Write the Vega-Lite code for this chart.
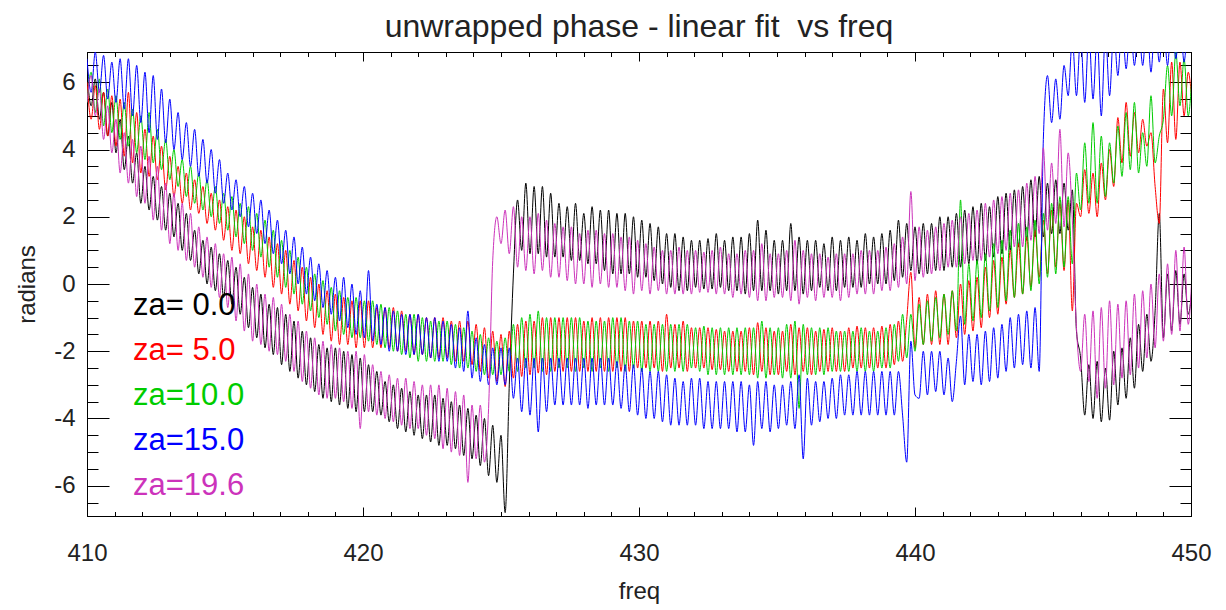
{
"$schema": "https://vega.github.io/schema/vega-lite/v6.json",
"width": 1104, "height": 464,
"autosize": {"type": "none"},
"padding": {"left": 87, "top": 52, "right": 35, "bottom": 94},
"background": "white",
"title": {"text": "unwrapped phase - linear fit\u00a0 vs freq", "fontSize": 32, "font": "Liberation Sans", "fontWeight": "normal", "color": "#222222", "anchor": "middle", "offset": 15, "baseline": "alphabetic", "dy": 32},
"config": {"view": {"stroke": "#000000", "strokeWidth": 1}, "axis": {"grid": false, "domainColor": "#000000", "tickColor": "#000000", "domainWidth": 1, "tickWidth": 1, "labelFont": "Liberation Sans", "labelFontSize": 24, "labelColor": "#222222", "titleFont": "Liberation Sans", "titleFontSize": 24, "titleFontWeight": "normal", "titleColor": "#222222", "labelFlush": false, "labelOverlap": false}},
"datasets": {"phase": [
{"f":410,"a":6.3,"b":6.0,"c":5.4,"d":6.7,"e":5.4},
{"f":410.15,"a":5.3,"b":4.9,"c":6.3,"d":5.7,"e":6.2},
{"f":410.3,"a":6.1,"b":5.9,"c":5.1,"d":6.9,"e":5.0},
{"f":410.45,"a":4.9,"b":4.6,"c":6.1,"d":5.7,"e":5.8},
{"f":410.6,"a":5.7,"b":5.7,"c":4.7,"d":6.8,"e":4.3},
{"f":410.75,"a":4.4,"b":4.4,"c":5.8,"d":5.5,"e":5.3},
{"f":410.9,"a":5.4,"b":5.6,"c":4.5,"d":6.6,"e":3.9},
{"f":411.05,"a":3.9,"b":4.1,"c":5.6,"d":5.4,"e":4.9},
{"f":411.2,"a":4.9,"b":5.5,"c":4.3,"d":6.7,"e":3.3},
{"f":411.35,"a":3.4,"b":3.8,"c":5.4,"d":5.2,"e":4.5},
{"f":411.5,"a":4.4,"b":5.7,"c":4.1,"d":6.7,"e":3.0},
{"f":411.65,"a":3.0,"b":3.6,"c":5.2,"d":5.0,"e":4.3},
{"f":411.8,"a":3.9,"b":5.1,"c":3.9,"d":6.5,"e":2.6},
{"f":411.95,"a":2.4,"b":3.3,"c":5.0,"d":4.8,"e":4.1},
{"f":412.1,"a":3.5,"b":4.6,"c":3.7,"d":6.3,"e":2.4},
{"f":412.25,"a":2.2,"b":3.2,"c":5.1,"d":4.5,"e":3.8},
{"f":412.4,"a":3.2,"b":4.4,"c":3.6,"d":6.2,"e":1.9},
{"f":412.55,"a":1.9,"b":3.1,"c":4.6,"d":4.3,"e":3.5},
{"f":412.7,"a":2.9,"b":4.1,"c":3.4,"d":5.8,"e":1.6},
{"f":412.85,"a":1.6,"b":2.8,"c":4.3,"d":4.2,"e":3.0},
{"f":413,"a":2.7,"b":3.8,"c":3.1,"d":5.5,"e":1.2},
{"f":413.15,"a":1.4,"b":2.6,"c":4.0,"d":4.0,"e":2.7},
{"f":413.3,"a":2.4,"b":3.5,"c":2.9,"d":5.1,"e":1.0},
{"f":413.45,"a":1.0,"b":2.4,"c":3.7,"d":3.7,"e":2.4},
{"f":413.6,"a":2.1,"b":3.3,"c":2.6,"d":4.8,"e":0.7},
{"f":413.75,"a":0.7,"b":2.2,"c":3.5,"d":3.5,"e":2.1},
{"f":413.9,"a":1.6,"b":3.1,"c":2.4,"d":4.6,"e":0.5},
{"f":414.05,"a":0.3,"b":2.1,"c":3.3,"d":3.2,"e":1.7},
{"f":414.2,"a":1.3,"b":2.9,"c":2.2,"d":4.3,"e":0.2},
{"f":414.35,"a":0.0,"b":1.8,"c":3.1,"d":3.0,"e":1.4},
{"f":414.5,"a":1.1,"b":2.7,"c":2.0,"d":4.0,"e":-0.1},
{"f":414.65,"a":-0.2,"b":1.6,"c":2.9,"d":2.7,"e":1.2},
{"f":414.8,"a":0.9,"b":2.5,"c":1.8,"d":3.7,"e":-0.4},
{"f":414.95,"a":-0.4,"b":1.3,"c":2.7,"d":2.4,"e":0.9},
{"f":415.1,"a":0.7,"b":2.3,"c":1.6,"d":3.3,"e":-0.7},
{"f":415.25,"a":-0.6,"b":1.0,"c":2.6,"d":2.2,"e":0.8},
{"f":415.4,"a":0.5,"b":2.2,"c":1.4,"d":3.1,"e":-1.1},
{"f":415.55,"a":-0.9,"b":0.9,"c":2.4,"d":2.0,"e":0.6},
{"f":415.7,"a":0.2,"b":2.0,"c":1.2,"d":2.9,"e":-1.4},
{"f":415.85,"a":-1.3,"b":0.6,"c":2.3,"d":1.7,"e":0.3},
{"f":416,"a":-0.1,"b":1.7,"c":1.0,"d":2.7,"e":-1.7},
{"f":416.15,"a":-1.6,"b":0.4,"c":2.1,"d":1.5,"e":0.0},
{"f":416.3,"a":-0.3,"b":1.6,"c":0.8,"d":2.5,"e":-1.8},
{"f":416.45,"a":-1.9,"b":0.2,"c":1.9,"d":1.2,"e":-0.3},
{"f":416.6,"a":-0.6,"b":1.4,"c":0.5,"d":2.2,"e":-2.0},
{"f":416.75,"a":-2.1,"b":-0.1,"c":1.6,"d":0.9,"e":-0.4},
{"f":416.9,"a":-0.7,"b":1.2,"c":0.2,"d":1.9,"e":-2.1},
{"f":417.05,"a":-2.4,"b":-0.3,"c":1.3,"d":0.6,"e":-0.6},
{"f":417.2,"a":-0.9,"b":1.0,"c":-0.1,"d":1.6,"e":-2.3},
{"f":417.35,"a":-2.6,"b":-0.6,"c":1.0,"d":0.3,"e":-0.9},
{"f":417.5,"a":-1.1,"b":0.7,"c":-0.3,"d":1.4,"e":-2.6},
{"f":417.65,"a":-2.8,"b":-0.8,"c":0.8,"d":0.0,"e":-1.1},
{"f":417.8,"a":-1.4,"b":0.5,"c":-0.6,"d":1.1,"e":-2.9},
{"f":417.95,"a":-3.0,"b":-1.1,"c":0.5,"d":-0.3,"e":-1.4},
{"f":418.1,"a":-1.6,"b":0.2,"c":-0.8,"d":0.8,"e":-3.1},
{"f":418.25,"a":-3.2,"b":-1.3,"c":0.3,"d":-0.5,"e":-1.6},
{"f":418.4,"a":-1.8,"b":0.0,"c":-1.0,"d":0.6,"e":-3.3},
{"f":418.55,"a":-3.4,"b":-1.5,"c":0.1,"d":-0.7,"e":-1.7},
{"f":418.7,"a":-1.9,"b":-0.2,"c":-1.2,"d":0.4,"e":-3.4},
{"f":418.85,"a":-3.5,"b":-1.7,"c":-0.1,"d":-0.9,"e":-1.8},
{"f":419,"a":-1.9,"b":-0.3,"c":-1.4,"d":0.2,"e":-3.4},
{"f":419.15,"a":-3.6,"b":-1.8,"c":-0.2,"d":-1.1,"e":-1.9},
{"f":419.3,"a":-2.0,"b":-0.4,"c":-1.5,"d":0.2,"e":-3.5},
{"f":419.45,"a":-3.7,"b":-1.8,"c":-0.4,"d":-1.3,"e":-2.0},
{"f":419.6,"a":-2.1,"b":-0.5,"c":-1.6,"d":0.0,"e":-3.7},
{"f":419.75,"a":-3.8,"b":-1.9,"c":-0.4,"d":-1.5,"e":-2.0},
{"f":419.9,"a":-2.2,"b":-0.5,"c":-1.6,"d":-0.2,"e":-4.3},
{"f":420.05,"a":-3.8,"b":-1.9,"c":-0.5,"d":-1.6,"e":-2.1},
{"f":420.2,"a":-2.4,"b":-0.5,"c":-1.7,"d":0.4,"e":-3.8},
{"f":420.35,"a":-3.8,"b":-1.9,"c":-0.5,"d":-1.7,"e":-2.4},
{"f":420.5,"a":-2.6,"b":-0.7,"c":-1.8,"d":-0.6,"e":-3.9},
{"f":420.65,"a":-3.9,"b":-1.9,"c":-0.6,"d":-1.8,"e":-2.6},
{"f":420.8,"a":-2.9,"b":-0.7,"c":-1.9,"d":-0.7,"e":-4.0},
{"f":420.95,"a":-4.1,"b":-1.9,"c":-0.7,"d":-2.0,"e":-2.7},
{"f":421.1,"a":-3.0,"b":-0.7,"c":-2.0,"d":-0.8,"e":-4.1},
{"f":421.25,"a":-4.3,"b":-2.0,"c":-0.8,"d":-2.0,"e":-2.8},
{"f":421.4,"a":-3.1,"b":-0.8,"c":-2.1,"d":-0.9,"e":-4.2},
{"f":421.55,"a":-4.4,"b":-2.0,"c":-0.9,"d":-2.1,"e":-2.8},
{"f":421.7,"a":-3.2,"b":-0.9,"c":-2.2,"d":-0.9,"e":-4.3},
{"f":421.85,"a":-4.5,"b":-2.1,"c":-0.9,"d":-2.1,"e":-2.9},
{"f":422,"a":-3.3,"b":-0.9,"c":-2.3,"d":-0.9,"e":-4.3},
{"f":422.15,"a":-4.6,"b":-2.1,"c":-1.0,"d":-2.1,"e":-3.0},
{"f":422.3,"a":-3.3,"b":-1.0,"c":-2.3,"d":-1.0,"e":-4.5},
{"f":422.45,"a":-4.7,"b":-2.2,"c":-1.1,"d":-2.2,"e":-3.0},
{"f":422.6,"a":-3.3,"b":-1.0,"c":-2.3,"d":-1.0,"e":-4.6},
{"f":422.75,"a":-4.8,"b":-2.2,"c":-1.1,"d":-2.3,"e":-3.0},
{"f":422.9,"a":-3.4,"b":-1.0,"c":-2.3,"d":-1.1,"e":-4.9},
{"f":423.05,"a":-4.8,"b":-2.2,"c":-1.1,"d":-2.3,"e":-3.1},
{"f":423.2,"a":-3.5,"b":-1.1,"c":-2.4,"d":-1.2,"e":-5.0},
{"f":423.35,"a":-4.9,"b":-2.3,"c":-1.2,"d":-2.5,"e":-3.2},
{"f":423.5,"a":-3.6,"b":-1.1,"c":-2.5,"d":-1.3,"e":-5.1},
{"f":423.65,"a":-5.1,"b":-2.3,"c":-1.3,"d":-2.6,"e":-3.3},
{"f":423.8,"a":-3.7,"b":-1.1,"c":-2.5,"d":-0.8,"e":-5.9},
{"f":423.95,"a":-5.2,"b":-2.4,"c":-1.4,"d":-2.8,"e":-3.6},
{"f":424.1,"a":-3.9,"b":-1.2,"c":-2.6,"d":-1.6,"e":-5.2},
{"f":424.25,"a":-5.4,"b":-2.6,"c":-1.5,"d":-2.9,"e":-3.6},
{"f":424.4,"a":-4.0,"b":-1.3,"c":-2.7,"d":-1.8,"e":-5.3},
{"f":424.55,"a":-5.7,"b":-2.8,"c":-1.6,"d":-3.0,"e":-3.7},
{"f":424.7,"a":-4.2,"b":-1.4,"c":-2.7,"d":-1.9,"e":0.7},
{"f":424.85,"a":-5.9,"b":-2.9,"c":-1.7,"d":-3.0,"e":2.0},
{"f":425,"a":-4.5,"b":-1.5,"c":-2.7,"d":-1.9,"e":1.2},
{"f":425.15,"a":-6.8,"b":-3.05,"c":-1.6,"d":-3.0,"e":2.2},
{"f":425.3,"a":-3.0,"b":-1.4,"c":-2.6,"d":-1.9,"e":0.9},
{"f":425.45,"a":0.3,"b":-2.8,"c":-1.2,"d":-3.4,"e":2.3},
{"f":425.6,"a":2.5,"b":-1.2,"c":-2.6,"d":-2.2,"e":0.5},
{"f":425.75,"a":1.0,"b":-2.75,"c":-1.0,"d":-3.8,"e":2.0},
{"f":425.9,"a":3.0,"b":-1.1,"c":-2.5,"d":-2.2,"e":0.4},
{"f":426.05,"a":0.9,"b":-2.7,"c":-0.9,"d":-3.9,"e":2.0},
{"f":426.2,"a":2.9,"b":-1.1,"c":-2.5,"d":-2.2,"e":0.3},
{"f":426.35,"a":0.9,"b":-2.65,"c":-0.8,"d":-4.4,"e":2.1},
{"f":426.5,"a":2.9,"b":-1.0,"c":-2.6,"d":-2.2,"e":0.4},
{"f":426.65,"a":0.8,"b":-2.7,"c":-1.0,"d":-3.8,"e":1.9},
{"f":426.8,"a":2.7,"b":-1.0,"c":-2.6,"d":-2.2,"e":0.2},
{"f":426.95,"a":0.8,"b":-2.6,"c":-1.0,"d":-3.6,"e":1.8},
{"f":427.1,"a":2.4,"b":-1.0,"c":-2.5,"d":-2.2,"e":0.2},
{"f":427.25,"a":0.8,"b":-2.6,"c":-1.0,"d":-3.6,"e":1.7},
{"f":427.4,"a":2.3,"b":-1.0,"c":-2.5,"d":-2.2,"e":0.1},
{"f":427.55,"a":0.7,"b":-2.6,"c":-1.0,"d":-3.6,"e":1.7},
{"f":427.7,"a":2.4,"b":-1.0,"c":-2.6,"d":-2.2,"e":0.0},
{"f":427.85,"a":0.7,"b":-2.6,"c":-1.0,"d":-3.6,"e":1.5},
{"f":428,"a":2.1,"b":-1.1,"c":-2.5,"d":-2.2,"e":0.0},
{"f":428.15,"a":0.6,"b":-2.6,"c":-1.1,"d":-3.7,"e":1.6},
{"f":428.3,"a":2.3,"b":-1.0,"c":-2.6,"d":-2.2,"e":-0.1},
{"f":428.45,"a":0.6,"b":-2.6,"c":-1.1,"d":-3.6,"e":1.6},
{"f":428.6,"a":2.2,"b":-1.0,"c":-2.5,"d":-2.2,"e":0.0},
{"f":428.75,"a":0.4,"b":-2.6,"c":-1.1,"d":-3.6,"e":1.5},
{"f":428.9,"a":2.2,"b":-1.0,"c":-2.6,"d":-2.2,"e":-0.1},
{"f":429.05,"a":0.3,"b":-2.6,"c":-1.0,"d":-3.6,"e":1.5},
{"f":429.2,"a":2.1,"b":-1.0,"c":-2.5,"d":-2.3,"e":-0.1},
{"f":429.35,"a":0.3,"b":-2.6,"c":-1.0,"d":-3.7,"e":1.4},
{"f":429.5,"a":2.1,"b":-1.0,"c":-2.6,"d":-2.4,"e":-0.2},
{"f":429.65,"a":0.3,"b":-2.6,"c":-1.1,"d":-3.8,"e":1.4},
{"f":429.8,"a":2.0,"b":-1.1,"c":-2.5,"d":-2.4,"e":-0.3},
{"f":429.95,"a":0.2,"b":-2.5,"c":-1.1,"d":-3.9,"e":1.3},
{"f":430.1,"a":1.9,"b":-1.1,"c":-2.6,"d":-2.5,"e":-0.2},
{"f":430.25,"a":0.2,"b":-2.5,"c":-1.2,"d":-4.0,"e":1.2},
{"f":430.4,"a":1.8,"b":-1.1,"c":-2.6,"d":-2.6,"e":-0.3},
{"f":430.55,"a":0.1,"b":-2.5,"c":-1.2,"d":-4.0,"e":1.1},
{"f":430.7,"a":1.7,"b":-1.1,"c":-2.6,"d":-2.6,"e":-0.2},
{"f":430.85,"a":0.0,"b":-2.6,"c":-1.2,"d":-4.1,"e":1.0},
{"f":431,"a":1.5,"b":-0.9,"c":-2.6,"d":-2.7,"e":-0.3},
{"f":431.15,"a":-0.1,"b":-2.5,"c":-1.2,"d":-4.2,"e":1.0},
{"f":431.3,"a":1.5,"b":-1.2,"c":-2.6,"d":-2.8,"e":-0.3},
{"f":431.45,"a":-0.2,"b":-2.5,"c":-1.2,"d":-4.2,"e":1.1},
{"f":431.6,"a":1.4,"b":-1.1,"c":-2.6,"d":-2.9,"e":-0.3},
{"f":431.75,"a":-0.2,"b":-2.6,"c":-1.2,"d":-4.2,"e":1.0},
{"f":431.9,"a":1.3,"b":-1.3,"c":-2.5,"d":-2.8,"e":-0.3},
{"f":432.05,"a":-0.1,"b":-2.5,"c":-1.3,"d":-4.2,"e":1.0},
{"f":432.2,"a":1.3,"b":-1.3,"c":-2.6,"d":-2.8,"e":-0.25},
{"f":432.35,"a":-0.15,"b":-2.5,"c":-1.25,"d":-4.3,"e":0.95},
{"f":432.5,"a":1.35,"b":-1.3,"c":-2.7,"d":-2.9,"e":-0.25},
{"f":432.65,"a":-0.15,"b":-2.55,"c":-1.3,"d":-4.3,"e":1.0},
{"f":432.8,"a":1.5,"b":-1.35,"c":-2.7,"d":-2.9,"e":-0.3},
{"f":432.95,"a":-0.1,"b":-2.55,"c":-1.3,"d":-4.3,"e":1.1},
{"f":433.1,"a":1.3,"b":-1.4,"c":-2.7,"d":-2.9,"e":-0.3},
{"f":433.25,"a":-0.2,"b":-2.6,"c":-1.3,"d":-4.3,"e":0.9},
{"f":433.4,"a":1.4,"b":-1.4,"c":-2.7,"d":-2.9,"e":-0.4},
{"f":433.55,"a":-0.2,"b":-2.6,"c":-1.3,"d":-4.4,"e":0.9},
{"f":433.7,"a":1.4,"b":-1.4,"c":-2.7,"d":-2.9,"e":-0.3},
{"f":433.85,"a":-0.3,"b":-2.6,"c":-1.3,"d":-4.4,"e":1.0},
{"f":434,"a":1.5,"b":-1.3,"c":-2.7,"d":-3.0,"e":-0.4},
{"f":434.15,"a":-0.2,"b":-2.7,"c":-1.3,"d":-4.8,"e":1.0},
{"f":434.3,"a":1.9,"b":-1.15,"c":-2.8,"d":-2.9,"e":-0.5},
{"f":434.45,"a":-0.2,"b":-2.6,"c":-1.1,"d":-4.3,"e":1.2},
{"f":434.6,"a":1.6,"b":-1.3,"c":-2.8,"d":-2.9,"e":-0.5},
{"f":434.75,"a":-0.2,"b":-2.7,"c":-1.3,"d":-4.4,"e":0.9},
{"f":434.9,"a":1.3,"b":-1.4,"c":-2.7,"d":-3.0,"e":-0.4},
{"f":435.05,"a":-0.3,"b":-2.7,"c":-1.3,"d":-4.3,"e":0.9},
{"f":435.2,"a":1.3,"b":-1.4,"c":-2.8,"d":-3.0,"e":-0.4},
{"f":435.35,"a":-0.2,"b":-2.6,"c":-1.2,"d":-4.2,"e":1.0},
{"f":435.5,"a":1.8,"b":-1.2,"c":-2.8,"d":-2.9,"e":-0.5},
{"f":435.65,"a":-0.2,"b":-2.7,"c":-1.1,"d":-4.3,"e":1.3},
{"f":435.8,"a":1.4,"b":-1.3,"c":-3.7,"d":-2.7,"e":-0.6},
{"f":435.95,"a":-0.3,"b":-2.6,"c":-1.2,"d":-5.2,"e":1.0},
{"f":436.1,"a":1.3,"b":-1.3,"c":-2.7,"d":-2.8,"e":-0.4},
{"f":436.25,"a":-0.2,"b":-2.7,"c":-1.3,"d":-4.2,"e":0.9},
{"f":436.4,"a":1.3,"b":-1.4,"c":-2.7,"d":-2.9,"e":-0.5},
{"f":436.55,"a":-0.1,"b":-2.6,"c":-1.3,"d":-4.1,"e":0.9},
{"f":436.7,"a":1.2,"b":-1.35,"c":-2.7,"d":-2.9,"e":-0.4},
{"f":436.85,"a":-0.2,"b":-2.6,"c":-1.3,"d":-4.0,"e":0.8},
{"f":437,"a":1.4,"b":-1.3,"c":-2.6,"d":-2.8,"e":-0.4},
{"f":437.15,"a":-0.2,"b":-2.6,"c":-1.4,"d":-4.0,"e":0.9},
{"f":437.3,"a":1.3,"b":-1.4,"c":-2.6,"d":-2.7,"e":-0.5},
{"f":437.45,"a":-0.1,"b":-2.6,"c":-1.4,"d":-3.9,"e":0.9},
{"f":437.6,"a":1.4,"b":-1.3,"c":-2.6,"d":-2.7,"e":-0.4},
{"f":437.75,"a":-0.1,"b":-2.5,"c":-1.4,"d":-3.9,"e":0.9},
{"f":437.9,"a":1.3,"b":-1.25,"c":-2.6,"d":-2.6,"e":-0.3},
{"f":438.05,"a":-0.1,"b":-2.5,"c":-1.3,"d":-3.9,"e":1.0},
{"f":438.2,"a":1.5,"b":-1.3,"c":-2.6,"d":-2.6,"e":-0.3},
{"f":438.35,"a":0.0,"b":-2.5,"c":-1.4,"d":-3.9,"e":1.0},
{"f":438.5,"a":1.4,"b":-1.3,"c":-2.6,"d":-2.6,"e":-0.3},
{"f":438.65,"a":0.0,"b":-2.5,"c":-1.4,"d":-3.9,"e":1.0},
{"f":438.8,"a":1.5,"b":-1.25,"c":-2.5,"d":-2.6,"e":-0.2},
{"f":438.95,"a":0.0,"b":-2.5,"c":-1.3,"d":-3.9,"e":1.1},
{"f":439.1,"a":1.6,"b":-1.2,"c":-2.5,"d":-2.6,"e":-0.2},
{"f":439.25,"a":0.1,"b":-2.4,"c":-1.2,"d":-3.9,"e":1.2},
{"f":439.4,"a":1.9,"b":-1.1,"c":-2.3,"d":-2.6,"e":-0.1},
{"f":439.55,"a":0.2,"b":-2.3,"c":-0.9,"d":-3.9,"e":1.4},
{"f":439.7,"a":1.8,"b":-1.05,"c":-2.2,"d":-5.3,"e":0.0},
{"f":439.85,"a":0.4,"b":0.35,"c":-0.9,"d":-1.7,"e":2.75},
{"f":440,"a":1.7,"b":-1.9,"c":-2.0,"d":-3.3,"e":0.1},
{"f":440.15,"a":0.3,"b":-0.4,"c":-0.6,"d":-3.4,"e":1.7},
{"f":440.3,"a":1.8,"b":-1.8,"c":-1.8,"d":-2.0,"e":0.2},
{"f":440.45,"a":0.3,"b":-0.3,"c":-0.5,"d":-3.3,"e":1.6},
{"f":440.6,"a":1.8,"b":-1.8,"c":-1.7,"d":-2.0,"e":0.3},
{"f":440.75,"a":0.4,"b":-0.2,"c":-0.4,"d":-3.2,"e":1.7},
{"f":440.9,"a":2.0,"b":-1.8,"c":-1.6,"d":-2.0,"e":0.4},
{"f":441.05,"a":0.4,"b":-0.3,"c":-0.3,"d":-3.3,"e":1.8},
{"f":441.2,"a":2.0,"b":-1.8,"c":-1.5,"d":-2.2,"e":0.5},
{"f":441.35,"a":0.5,"b":-0.2,"c":-0.2,"d":-3.5,"e":1.9},
{"f":441.5,"a":2.1,"b":-1.6,"c":-1.4,"d":-2.3,"e":0.5},
{"f":441.65,"a":0.5,"b":0.0,"c":2.5,"d":-0.95,"e":2.0},
{"f":441.8,"a":2.2,"b":-1.5,"c":-1.2,"d":-3.0,"e":0.6},
{"f":441.95,"a":0.6,"b":0.1,"c":0.6,"d":-1.5,"e":2.1},
{"f":442.1,"a":2.3,"b":-1.4,"c":-1.1,"d":-2.9,"e":0.7},
{"f":442.25,"a":0.6,"b":0.2,"c":0.7,"d":-1.5,"e":2.2},
{"f":442.4,"a":2.4,"b":-1.3,"c":-1.0,"d":-3.0,"e":0.7},
{"f":442.55,"a":0.7,"b":0.5,"c":0.9,"d":-1.4,"e":2.4},
{"f":442.7,"a":2.3,"b":-1.0,"c":-0.8,"d":-2.9,"e":0.8},
{"f":442.85,"a":0.8,"b":0.7,"c":1.2,"d":-1.3,"e":2.5},
{"f":443,"a":2.6,"b":-0.9,"c":-0.7,"d":-2.8,"e":0.9},
{"f":443.15,"a":0.9,"b":0.8,"c":1.3,"d":-1.2,"e":2.6},
{"f":443.3,"a":2.7,"b":-0.6,"c":-0.5,"d":-2.6,"e":1.0},
{"f":443.45,"a":1.0,"b":1.0,"c":1.6,"d":-1.0,"e":2.7},
{"f":443.6,"a":2.8,"b":-0.4,"c":-0.4,"d":-2.5,"e":1.1},
{"f":443.75,"a":1.1,"b":1.2,"c":1.8,"d":-0.9,"e":2.8},
{"f":443.9,"a":2.9,"b":-0.3,"c":-0.3,"d":-2.4,"e":1.1},
{"f":444.05,"a":1.3,"b":1.4,"c":1.7,"d":-0.8,"e":3.0},
{"f":444.2,"a":3.1,"b":-0.1,"c":-0.2,"d":-2.5,"e":1.3},
{"f":444.35,"a":1.4,"b":1.6,"c":1.9,"d":-0.7,"e":3.2},
{"f":444.5,"a":3.2,"b":0.2,"c":0.0,"d":-2.6,"e":1.5},
{"f":444.65,"a":1.4,"b":1.9,"c":2.1,"d":4.3,"e":4.05},
{"f":444.8,"a":3.0,"b":0.3,"c":0.2,"d":6.2,"e":1.6},
{"f":444.95,"a":1.5,"b":2.2,"c":2.4,"d":4.8,"e":3.6},
{"f":445.1,"a":3.1,"b":0.5,"c":0.3,"d":6.1,"e":1.8},
{"f":445.25,"a":1.5,"b":2.4,"c":2.6,"d":4.9,"e":4.6},
{"f":445.4,"a":3.0,"b":0.4,"c":0.5,"d":6.5,"e":1.7},
{"f":445.55,"a":1.6,"b":2.5,"c":2.6,"d":5.6,"e":3.9},
{"f":445.7,"a":2.8,"b":-0.8,"c":0.6,"d":7.3,"e":1.9},
{"f":445.85,"a":-1.4,"b":2.4,"c":3.3,"d":5.6,"e":-1.3},
{"f":446,"a":-2.2,"b":2.0,"c":2.2,"d":7.4,"e":-2.6},
{"f":446.15,"a":-3.9,"b":3.4,"c":4.2,"d":5.4,"e":-0.9},
{"f":446.3,"a":-2.4,"b":2.1,"c":2.4,"d":7.5,"e":-2.9},
{"f":446.45,"a":-4.0,"b":3.3,"c":4.8,"d":5.5,"e":-0.8},
{"f":446.6,"a":-2.3,"b":2.0,"c":2.4,"d":7.4,"e":-3.4},
{"f":446.75,"a":-4.1,"b":3.6,"c":4.4,"d":5.0,"e":-0.7},
{"f":446.9,"a":-2.5,"b":2.5,"c":2.6,"d":7.5,"e":-3.1},
{"f":447.05,"a":-4.05,"b":4.0,"c":4.2,"d":5.6,"e":-0.5},
{"f":447.2,"a":-2.0,"b":2.9,"c":3.0,"d":7.6,"e":-3.0},
{"f":447.35,"a":-3.6,"b":4.95,"c":4.7,"d":6.2,"e":-0.6},
{"f":447.5,"a":-1.9,"b":3.6,"c":3.2,"d":7.8,"e":-2.8},
{"f":447.65,"a":-3.4,"b":5.4,"c":5.1,"d":6.4,"e":-0.5},
{"f":447.8,"a":-1.6,"b":3.8,"c":3.4,"d":7.8,"e":-2.7},
{"f":447.95,"a":-3.1,"b":5.1,"c":5.4,"d":6.5,"e":-0.3},
{"f":448.1,"a":-1.2,"b":3.9,"c":3.3,"d":7.7,"e":-2.5},
{"f":448.25,"a":-2.6,"b":4.9,"c":4.5,"d":6.5,"e":-0.2},
{"f":448.4,"a":-0.9,"b":4.1,"c":3.5,"d":7.9,"e":-2.2},
{"f":448.55,"a":-2.3,"b":4.5,"c":5.6,"d":6.3,"e":0.0},
{"f":448.7,"a":-0.8,"b":2.9,"c":3.6,"d":7.9,"e":-1.9},
{"f":448.85,"a":2.1,"b":1.8,"c":4.4,"d":6.6,"e":0.3},
{"f":449,"a":-1.6,"b":5.8,"c":4.9,"d":7.8,"e":-1.7},
{"f":449.15,"a":0.3,"b":4.2,"c":6.5,"d":6.5,"e":0.6},
{"f":449.3,"a":-1.4,"b":6.6,"c":5.0,"d":8.0,"e":-1.5},
{"f":449.45,"a":0.4,"b":4.3,"c":6.9,"d":6.7,"e":1.0},
{"f":449.6,"a":-1.2,"b":6.6,"c":5.3,"d":7.9,"e":-1.4},
{"f":449.75,"a":0.3,"b":5.0,"c":6.7,"d":6.6,"e":1.1},
{"f":449.9,"a":-0.9,"b":6.3,"c":5.0,"d":7.8,"e":-1.2},
{"f":450.05,"a":0.0,"b":5.2,"c":6.5,"d":6.8,"e":0.6}
]},
"layer": [
{
"data": {"name": "phase"},
"transform": [{"fold": ["a","b","c","d","e"], "as": ["series","v"]}],
"mark": {"type": "line", "strokeWidth": 1, "interpolate": "monotone", "clip": true},
"encoding": {
"x": {"field": "f", "type": "quantitative", "scale": {"domain": [410,450], "nice": false, "zero": false},
 "axis": {"orient": "bottom", "values": [410,411,412,413,414,415,416,417,418,419,420,421,422,423,424,425,426,427,428,429,430,431,432,433,434,435,436,437,438,439,440,441,442,443,444,445,446,447,448,449,450],
  "tickSize": {"condition": {"test": "datum.value % 10 === 0", "value": -9}, "value": -4.5},
  "labelExpr": "datum.value % 10 === 0 ? toString(datum.value) : ''",
  "labelPadding": 34, "title": "freq", "titleY": 82, "titleBaseline": "alphabetic"}},
"y": {"field": "v", "type": "quantitative", "scale": {"domain": [-6.9,6.9], "nice": false, "zero": false},
 "axis": {"orient": "left", "values": [-6.5,-6,-5.5,-5,-4.5,-4,-3.5,-3,-2.5,-2,-1.5,-1,-0.5,0,0.5,1,1.5,2,2.5,3,3.5,4,4.5,5,5.5,6,6.5],
  "tickSize": {"condition": {"test": "datum.value % 2 === 0", "value": -22}, "value": -11},
  "labelExpr": "datum.value % 2 === 0 ? toString(datum.value) : ''",
  "labelPadding": 34, "title": "radians", "titleX": -53, "titleY": 232, "titleAngle": -90, "titleBaseline": "alphabetic", "titleAlign": "center"}},
"color": {"field": "series", "type": "nominal", "scale": {"domain": ["a","b","c","d","e"], "range": ["#000000","#ff0000","#00cc00","#0000ff","#cc33bb"]},
 "legend": {"orient": "none", "legendX": 15, "legendY": 238, "title": null, "padding": 0, "offset": 0,
  "labelFont": "Liberation Sans", "labelFontSize": 31, "labelOffset": 0, "labelLimit": 300,
  "symbolSize": 0, "symbolOpacity": 0, "symbolStrokeWidth": 0, "rowPadding": 13,
  "labelExpr": "datum.value == 'a' ? 'za= 0.0' : datum.value == 'b' ? 'za= 5.0' : datum.value == 'c' ? 'za=10.0' : datum.value == 'd' ? 'za=15.0' : 'za=19.6'",
  "encode": {"labels": {"update": {"fill": {"scale": "color", "field": "value"}}}}}}
}
},
{
"data": {"name": "phase"},
"mark": {"type": "point", "opacity": 0, "clip": true},
"encoding": {
"x": {"field": "f", "type": "quantitative", "scale": {"domain": [410,450], "nice": false, "zero": false},
 "axis": {"orient": "top", "values": [410,411,412,413,414,415,416,417,418,419,420,421,422,423,424,425,426,427,428,429,430,431,432,433,434,435,436,437,438,439,440,441,442,443,444,445,446,447,448,449,450],
  "tickSize": {"condition": {"test": "datum.value % 10 === 0", "value": -9}, "value": -4.5},
  "labels": false, "title": null}},
"y": {"field": "a", "type": "quantitative", "scale": {"domain": [-6.9,6.9], "nice": false, "zero": false},
 "axis": {"orient": "right", "values": [-6.5,-6,-5.5,-5,-4.5,-4,-3.5,-3,-2.5,-2,-1.5,-1,-0.5,0,0.5,1,1.5,2,2.5,3,3.5,4,4.5,5,5.5,6,6.5],
  "tickSize": {"condition": {"test": "datum.value % 2 === 0", "value": -22}, "value": -11},
  "labels": false, "title": null}}
}
}
],
"resolve": {"axis": {"x": "independent", "y": "independent"}}
}
